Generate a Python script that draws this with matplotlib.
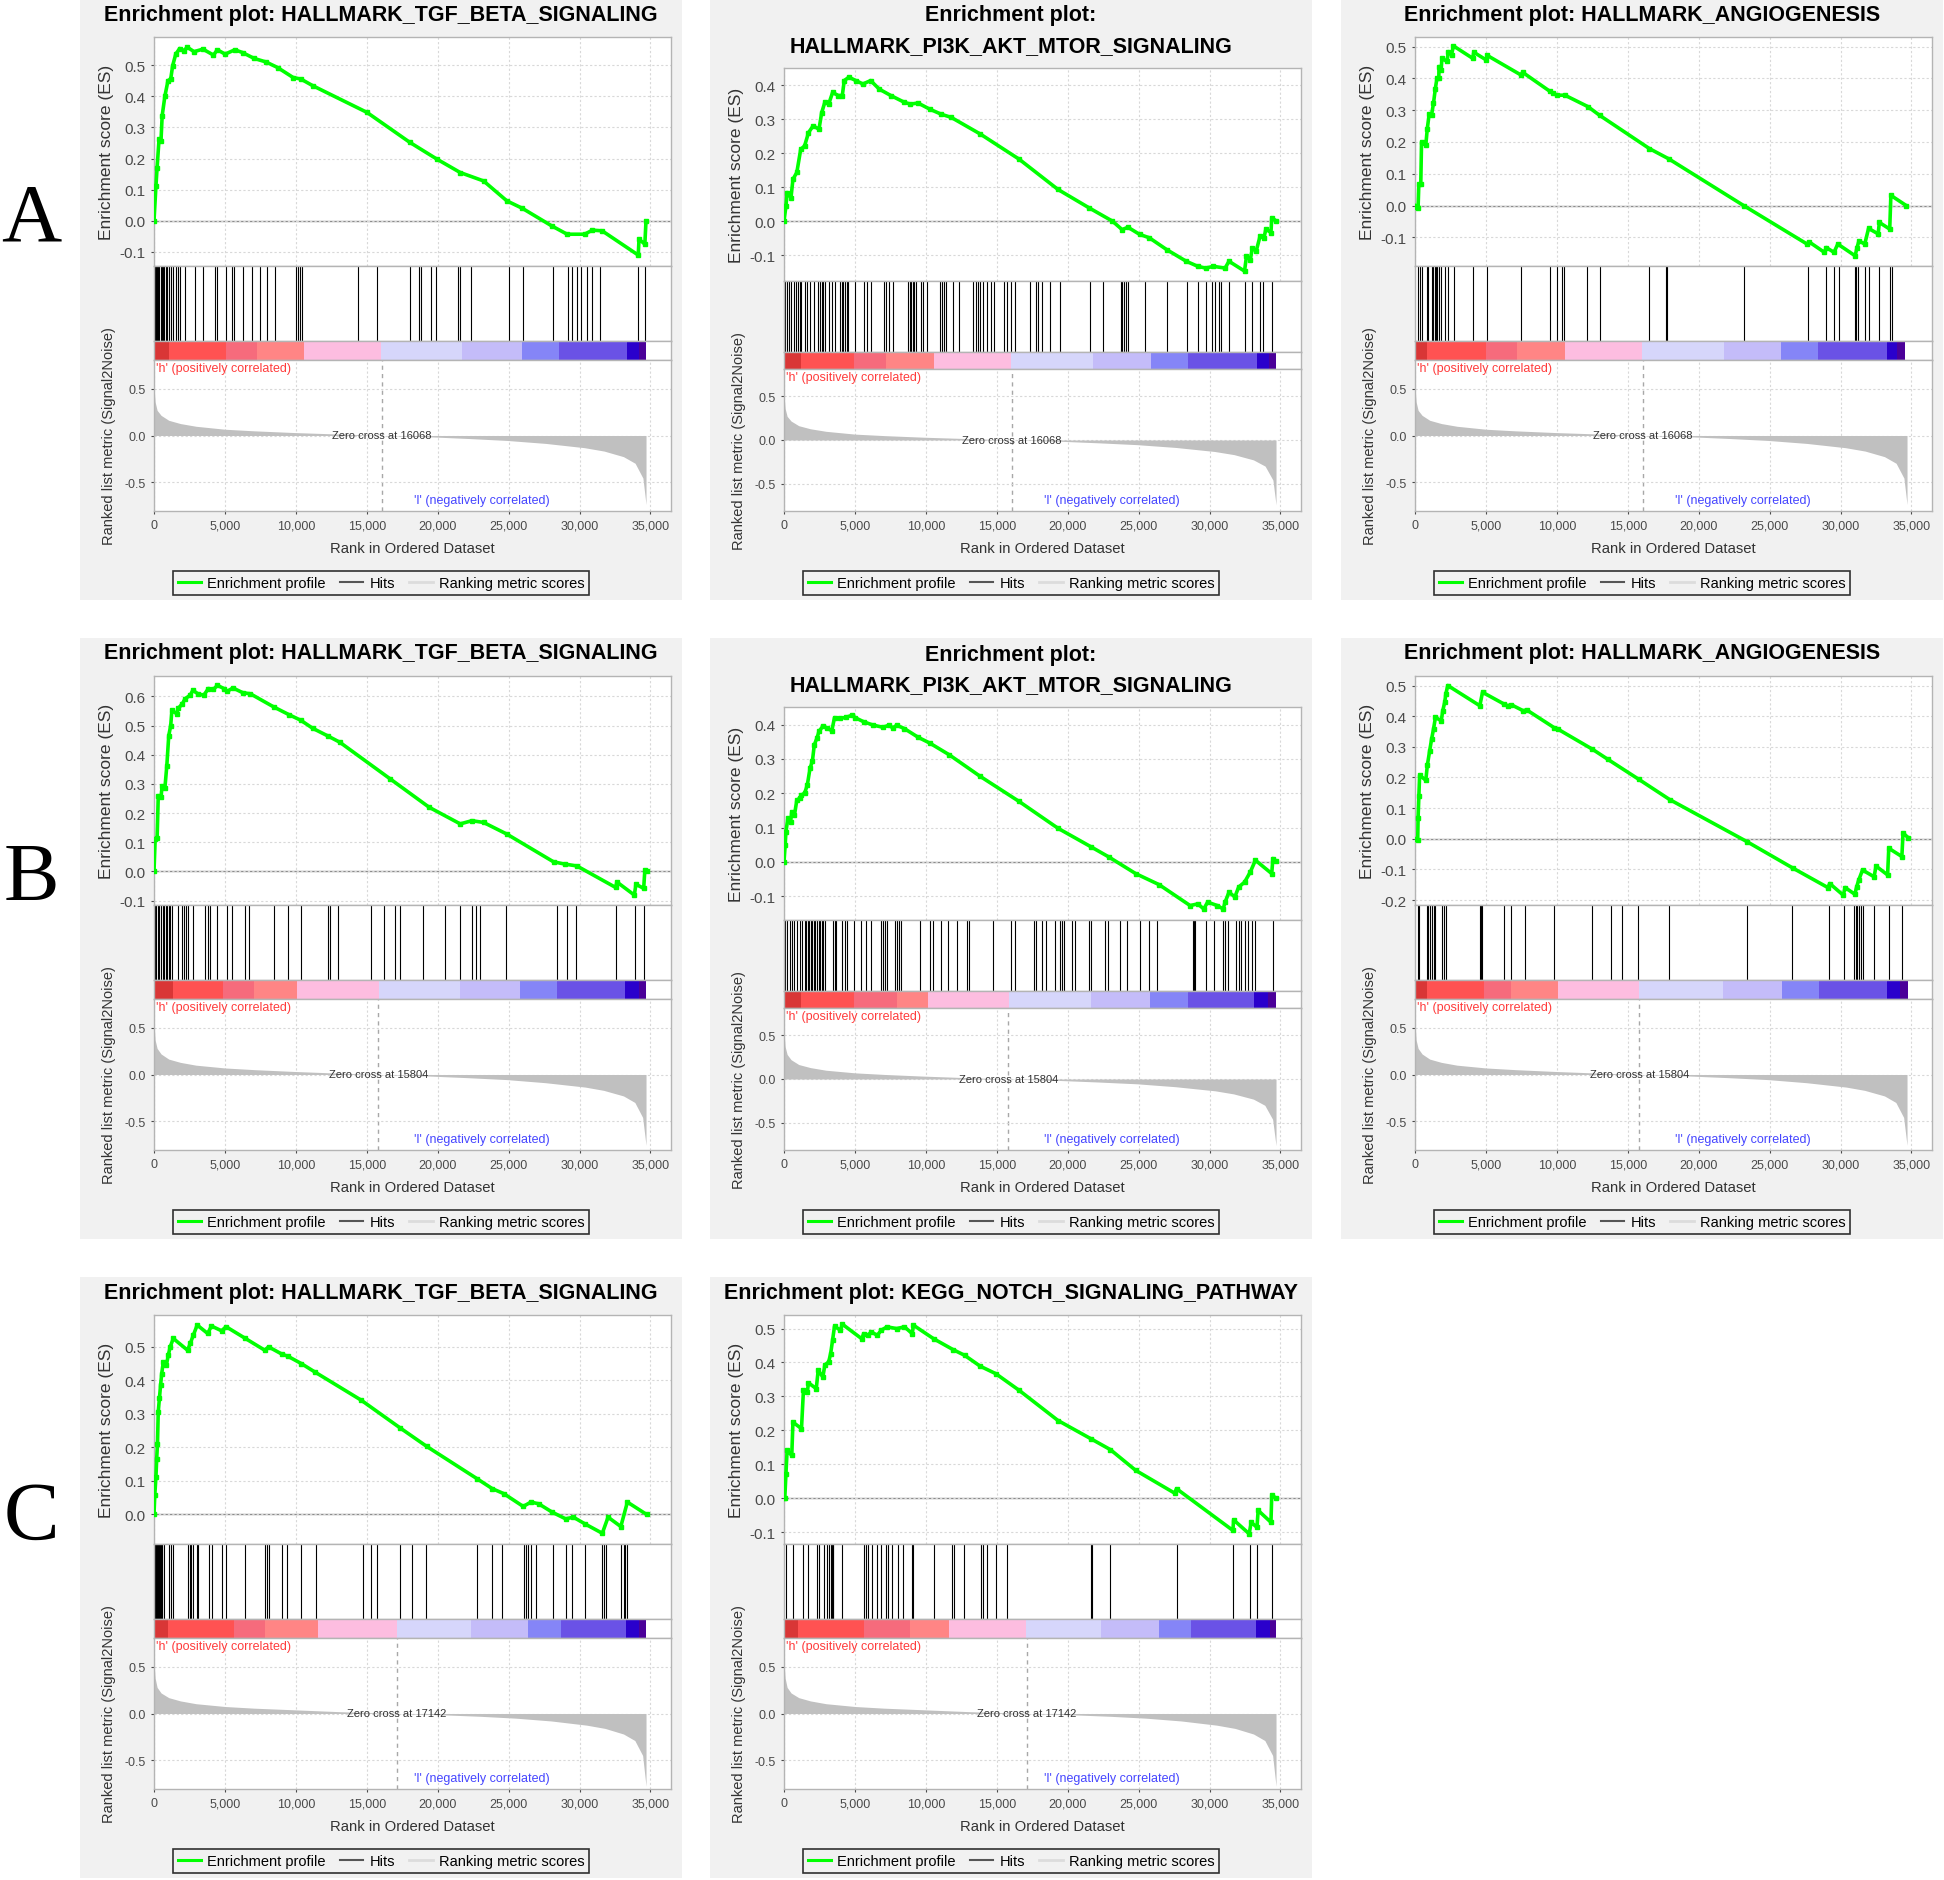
import matplotlib
matplotlib.use("Agg")
import matplotlib.pyplot as plt
from matplotlib.lines import Line2D
from matplotlib.patches import Rectangle
from matplotlib.ticker import MultipleLocator, FuncFormatter

plt.rcParams["font.family"] = ["Liberation Sans", "DejaVu Sans"]
plt.rcParams["axes.unicode_minus"] = False

# ---------------- data ----------------
titles = [
    "Enrichment plot: HALLMARK_TGF_BETA_SIGNALING",
    "Enrichment plot:\nHALLMARK_PI3K_AKT_MTOR_SIGNALING",
    "Enrichment plot: HALLMARK_ANGIOGENESIS",
    "Enrichment plot: HALLMARK_TGF_BETA_SIGNALING",
    "Enrichment plot:\nHALLMARK_PI3K_AKT_MTOR_SIGNALING",
    "Enrichment plot: HALLMARK_ANGIOGENESIS",
    "Enrichment plot: HALLMARK_TGF_BETA_SIGNALING",
    "Enrichment plot: KEGG_NOTCH_SIGNALING_PATHWAY",
]
row_labels = ["A", "B", "C"]
zero_cross = [16068, 15804, 17142]          # one ranked list per row
xtick_vals = [0, 5000, 10000, 15000, 20000, 25000, 30000, 35000]

# ranked list metric (Signal2Noise), one per row
metric_rank_A = [0, 80, 220, 500, 1040, 1860, 2960, 5010, 7070, 9810, 12550, 16068,
                 19400, 22140, 24880, 27620, 30360, 31730, 33100, 33920, 34470, 34690]
metric_val_A = [0.52, 0.36, 0.27, 0.216, 0.163, 0.128, 0.099, 0.067, 0.05, 0.032, 0.018, 0.0,
                -0.014, -0.032, -0.053, -0.085, -0.131, -0.167, -0.227, -0.298, -0.457, -0.74]
metric_rank_B = [0, 80, 220, 500, 1040, 1860, 2960, 5010, 7070, 9810, 12400, 15804,
                 19300, 22100, 24900, 27600, 30400, 31700, 33100, 33900, 34450, 34690]
metric_val_B = [0.55, 0.37, 0.28, 0.22, 0.165, 0.13, 0.10, 0.07, 0.052, 0.033, 0.018, 0.0,
                -0.016, -0.034, -0.055, -0.088, -0.135, -0.17, -0.23, -0.30, -0.46, -0.76]
metric_rank_C = [0, 80, 220, 500, 1040, 1860, 2960, 5010, 7070, 9810, 13000, 17142,
                 20500, 23000, 25500, 28000, 30500, 31800, 33100, 33900, 34450, 34690]
metric_val_C = [0.55, 0.38, 0.28, 0.22, 0.17, 0.135, 0.105, 0.075, 0.057, 0.04, 0.02, 0.0,
                -0.015, -0.03, -0.05, -0.08, -0.125, -0.16, -0.22, -0.29, -0.45, -0.78]

# enrichment score profiles (rank, ES)
es_rank_1 = [0, 137, 219, 356, 493, 575, 767, 986, 1178, 1315, 1534, 1808, 2082, 2356, 2822,
             3452, 4192, 4466, 5014, 5699, 6247, 7069, 7891, 8713, 9809, 10357, 11180, 15015,
             18030, 19947, 21591, 23235, 24879, 25975, 28030, 29126, 30359, 30907, 31592,
             34140, 34195, 34606, 34688]
es_val_1 = [0.0, 0.112, 0.171, 0.262, 0.257, 0.337, 0.40, 0.45, 0.455, 0.498, 0.535, 0.553,
            0.546, 0.557, 0.543, 0.551, 0.532, 0.549, 0.535, 0.549, 0.54, 0.521, 0.51, 0.492,
            0.46, 0.455, 0.434, 0.348, 0.252, 0.198, 0.155, 0.128, 0.064, 0.04, -0.016,
            -0.043, -0.043, -0.03, -0.032, -0.11, -0.059, -0.075, 0.0]
es_rank_2 = [0, 137, 219, 493, 630, 904, 1178, 1452, 1726, 2055, 2466, 2658, 2877, 3151, 3425,
             3836, 4110, 4247, 4576, 5069, 5562, 6110, 6713, 7535, 8494, 8905, 9453, 10275,
             11097, 11782, 13837, 16577, 19317, 21509, 23153, 23838, 24249, 25071, 25756,
             26989, 28359, 29181, 29729, 30277, 31099, 31373, 32469, 32606, 32880, 33017,
             33291, 33565, 33839, 33976, 34332, 34387, 34716]
es_val_2 = [0.0, 0.044, 0.084, 0.069, 0.123, 0.143, 0.211, 0.221, 0.26, 0.28, 0.27, 0.319,
            0.349, 0.344, 0.378, 0.369, 0.369, 0.413, 0.423, 0.413, 0.403, 0.413, 0.388, 0.369,
            0.349, 0.344, 0.347, 0.329, 0.314, 0.305, 0.256, 0.182, 0.093, 0.039, 0.0, -0.025,
            -0.018, -0.039, -0.049, -0.084, -0.118, -0.133, -0.138, -0.133, -0.138, -0.118,
            -0.147, -0.103, -0.113, -0.079, -0.088, -0.044, -0.049, -0.023, -0.034, 0.01, 0.0]
es_rank_3 = [0, 136, 217, 271, 407, 461, 759, 867, 1003, 1165, 1301, 1436, 1545, 1680, 1690,
             1843, 1897, 2249, 2358, 2575, 2710, 4065, 4146, 5014, 5095, 7453, 7588, 9485,
             9756, 10027, 10569, 12195, 13008, 16531, 17886, 23171, 27642, 27778, 28862, 28997,
             29539, 29810, 31030, 31165, 31301, 31707, 31978, 32655, 32737, 33469, 33550, 34634]
es_val_3 = [0.0, -0.005, -0.008, 0.068, 0.068, 0.2, 0.189, 0.242, 0.289, 0.284, 0.321, 0.368,
            0.4, 0.4, 0.437, 0.426, 0.463, 0.453, 0.484, 0.474, 0.502, 0.463, 0.482, 0.458,
            0.472, 0.411, 0.419, 0.36, 0.353, 0.347, 0.347, 0.311, 0.284, 0.179, 0.147, 0.0,
            -0.121, -0.114, -0.147, -0.132, -0.147, -0.121, -0.158, -0.132, -0.111, -0.121,
            -0.072, -0.089, -0.053, -0.074, 0.032, 0.0]
es_rank_4 = [0, 82, 219, 301, 493, 575, 767, 904, 1041, 1178, 1260, 1589, 1726, 2000, 2192,
             2548, 2740, 3096, 3507, 3836, 4192, 4466, 4932, 5151, 5562, 6247, 6795, 8439,
             9535, 10357, 11179, 12275, 13097, 16659, 19399, 21591, 22413, 23235, 24879,
             28167, 28989, 29811, 32551, 32633, 33866, 33976, 34524, 34606, 34743]
es_val_4 = [0.0, 0.111, 0.113, 0.26, 0.254, 0.294, 0.285, 0.363, 0.466, 0.5, 0.552, 0.541,
            0.56, 0.575, 0.592, 0.604, 0.621, 0.609, 0.604, 0.627, 0.624, 0.638, 0.627, 0.617,
            0.629, 0.613, 0.609, 0.564, 0.537, 0.518, 0.491, 0.464, 0.443, 0.317, 0.22, 0.163,
            0.174, 0.168, 0.128, 0.033, 0.025, 0.019, -0.055, -0.036, -0.081, -0.044, -0.058,
            0.005, 0.0]
es_rank_5 = [0, 82, 137, 274, 466, 548, 740, 904, 1096, 1233, 1452, 1644, 1836, 2000, 2137,
             2329, 2466, 2740, 3014, 3370, 3562, 3973, 4384, 4795, 5014, 5617, 6302, 6987,
             7398, 7672, 7946, 8494, 9453, 10275, 11645, 13837, 16577, 19317, 21646, 22879,
             24797, 26441, 28633, 29181, 29592, 29866, 30551, 30962, 31099, 31373, 31784,
             32058, 32469, 32880, 33236, 34387, 34469, 34716]
es_val_5 = [0.0, 0.049, 0.088, 0.127, 0.117, 0.146, 0.137, 0.18, 0.185, 0.195, 0.2, 0.224,
            0.273, 0.293, 0.341, 0.361, 0.38, 0.395, 0.39, 0.382, 0.42, 0.418, 0.421, 0.427,
            0.42, 0.408, 0.398, 0.392, 0.398, 0.39, 0.398, 0.388, 0.363, 0.346, 0.312, 0.249,
            0.176, 0.098, 0.044, 0.015, -0.034, -0.066, -0.127, -0.122, -0.137, -0.117, -0.127,
            -0.137, -0.117, -0.088, -0.102, -0.073, -0.059, -0.029, 0.005, -0.034, 0.01, 0.002]
es_rank_6 = [0, 190, 218, 272, 326, 762, 870, 1034, 1170, 1306, 1442, 1850, 1958, 2094, 2176,
             2312, 4570, 4760, 6256, 6528, 6800, 7616, 7888, 9792, 10064, 12512, 13600, 15776,
             17952, 23392, 26656, 29104, 29240, 30192, 30328, 31008, 31144, 31280, 31552,
             32368, 32504, 33320, 33402, 34326, 34408, 34762]
es_val_6 = [0.0, -0.005, 0.068, 0.139, 0.207, 0.191, 0.24, 0.287, 0.325, 0.358, 0.396, 0.385,
            0.418, 0.445, 0.473, 0.5, 0.434, 0.478, 0.44, 0.434, 0.437, 0.418, 0.42, 0.363,
            0.358, 0.292, 0.259, 0.194, 0.128, -0.009, -0.096, -0.159, -0.146, -0.184, -0.159,
            -0.181, -0.156, -0.135, -0.102, -0.124, -0.089, -0.118, -0.031, -0.058, 0.019, 0.004]
es_rank_7 = [0, 54, 136, 190, 245, 299, 381, 462, 544, 653, 870, 1006, 1142, 1360, 2366, 2557,
             2774, 3046, 3781, 4053, 4760, 5086, 6446, 7806, 8078, 9030, 9438, 10390, 11342,
             14606, 17326, 19230, 22766, 23854, 24670, 26030, 26574, 27118, 28070, 29022,
             29566, 30382, 31606, 32014, 32912, 33374, 34734]
es_val_7 = [0.0, 0.057, 0.112, 0.166, 0.211, 0.306, 0.346, 0.385, 0.42, 0.455, 0.445, 0.475,
            0.5, 0.525, 0.49, 0.51, 0.535, 0.565, 0.54, 0.562, 0.548, 0.56, 0.525, 0.49, 0.5,
            0.478, 0.472, 0.45, 0.425, 0.341, 0.259, 0.203, 0.107, 0.077, 0.062, 0.024, 0.037,
            0.032, 0.007, -0.013, -0.008, -0.028, -0.056, -0.008, -0.036, 0.037, 0.0]
es_rank_8 = [0, 55, 137, 219, 548, 630, 1233, 1370, 1644, 1726, 2274, 2411, 2740, 2877, 3151,
             3288, 3425, 3562, 3973, 4110, 5480, 5617, 5891, 6165, 6576, 6850, 7261, 7946,
             8494, 9042, 9124, 10549, 11919, 12741, 13837, 14933, 16577, 19317, 21646, 23016,
             24797, 27537, 27674, 31647, 31701, 32798, 32935, 33346, 33428, 34332, 34387, 34716]
es_val_8 = [0.0, 0.0, 0.072, 0.141, 0.126, 0.224, 0.205, 0.318, 0.313, 0.34, 0.323, 0.377,
            0.357, 0.392, 0.402, 0.426, 0.466, 0.507, 0.495, 0.513, 0.47, 0.485, 0.48, 0.49,
            0.48, 0.495, 0.505, 0.5, 0.505, 0.485, 0.51, 0.47, 0.438, 0.421, 0.389, 0.367,
            0.318, 0.229, 0.175, 0.143, 0.082, 0.015, 0.028, -0.095, -0.064, -0.105, -0.071,
            -0.086, -0.036, -0.071, 0.008, 0.0]

# hit positions (rank of each gene-set member)
hits_1 = [55, 137, 219, 301, 384, 466, 548, 630, 712, 822, 932, 1041, 1206, 1370, 1534, 1726,
          1863, 2192, 2877, 3452, 4329, 4466, 5096, 5507, 5644, 6247, 6932, 7480, 7973, 8521,
          10001, 10138, 10275, 10412, 14385, 15700, 18029, 18659, 18796, 19536, 19892, 21454,
          21591, 22331, 25016, 26030, 28112, 29208, 29455, 29811, 30085, 30496, 30852, 31455,
          34140, 34606]
hits_2 = [82, 219, 356, 493, 685, 822, 1014, 1151, 1233, 1507, 1644, 1836, 2110, 2384, 2548,
          2658, 2767, 2877, 3206, 3370, 3589, 3973, 4083, 4192, 4302, 4411, 4521, 5014, 5672,
          5836, 6165, 7042, 7206, 7425, 7672, 8768, 8878, 8987, 9097, 9179, 9316, 9672, 9782,
          10056, 11015, 11152, 11261, 11426, 11919, 12357, 13344, 13563, 13700, 13837, 14056,
          14330, 14577, 14796, 15481, 15755, 16029, 16303, 17344, 17755, 17892, 18221, 18769,
          19481, 21564, 22468, 23756, 23865, 23975, 24112, 24249, 25482, 26989, 28414, 29181,
          29729, 30140, 30414, 30688, 30825, 31373, 32469, 33017, 33565, 33757, 34387]
hits_3 = [217, 325, 488, 813, 921, 1220, 1301, 1409, 1491, 1572, 1680, 1843, 2087, 2358, 2764,
          4092, 5041, 7453, 9512, 10027, 10379, 10515, 12141, 13035, 16477, 17696, 17778,
          23225, 27696, 28943, 29539, 29891, 31002, 31111, 31219, 31707, 31978, 32710, 33523,
          33604]
hits_4 = [82, 164, 274, 384, 493, 603, 712, 822, 932, 1041, 1151, 1260, 1699, 2000, 2137,
          2274, 2411, 2767, 3562, 3781, 3973, 4411, 5151, 5507, 6384, 6713, 8439, 9480, 10357,
          12275, 12412, 12960, 15289, 16248, 17015, 17344, 18988, 20495, 21591, 22413, 22687,
          22961, 24797, 28386, 29126, 29729, 32606, 33921, 34551]
hits_5 = [82, 192, 411, 548, 740, 904, 1096, 1288, 1452, 1562, 1671, 1781, 1891, 2000, 2110,
          2219, 2329, 2439, 2548, 2658, 2767, 2877, 3425, 3562, 3699, 4110, 4302, 4466, 4932,
          5398, 5754, 6110, 6850, 6987, 7124, 7261, 7809, 7946, 8083, 8247, 9590, 10275, 10494,
          11042, 11590, 12193, 12878, 13015, 14741, 15974, 16303, 17618, 17755, 18221, 18495,
          19125, 19454, 19591, 19728, 20276, 20550, 21509, 21646, 22660, 22824, 23701, 24194,
          25126, 25756, 26304, 28825, 28907, 28989, 29784, 30332, 30962, 31099, 31291, 31866,
          32058, 32250, 32469, 32743, 32962, 33181, 34442]
hits_6 = [218, 299, 816, 925, 1034, 1170, 1306, 1414, 1904, 2040, 2176, 4570, 4651, 4733,
          6310, 6746, 7752, 9792, 12512, 13818, 14606, 15722, 17898, 23392, 26602, 29158,
          30246, 30954, 31062, 31171, 31280, 31443, 31606, 32368, 33402, 34354]
hits_7 = [54, 109, 163, 218, 272, 326, 381, 435, 490, 544, 598, 680, 1061, 1170, 1360, 2421,
          2530, 2638, 2774, 3019, 3101, 3862, 4080, 4814, 5086, 6446, 7806, 7942, 8078, 9030,
          9384, 10390, 11424, 14742, 15286, 15749, 17326, 18224, 19176, 22766, 23854, 24534,
          26085, 26248, 26384, 26574, 26901, 28152, 29077, 29485, 30382, 31606, 31742, 31878,
          32912, 33102, 33238, 33374]
hits_8 = [137, 630, 1370, 1726, 2329, 2466, 2822, 3014, 3206, 3315, 3370, 3425, 3480, 4110,
          5617, 5754, 5891, 6220, 6576, 6850, 7206, 7316, 7590, 8028, 8357, 9042, 9124, 10549,
          11864, 11974, 12686, 13892, 14056, 14330, 14933, 15755, 21646, 21728, 23016, 27674,
          31647, 32880, 33346, 34387]

# colour bar segment edges (rank) under the hits
bar_edges_1 = [0, 1040, 5070, 7270, 10580, 16030, 21700, 25975, 28580, 33370, 34190, 34690]
bar_edges_2 = [0, 1233, 4932, 7206, 10549, 16029, 21783, 25893, 28496, 33346, 34168, 34661]
bar_edges_3 = [0, 813, 5014, 7182, 10569, 15989, 21761, 25824, 28398, 33276, 33953, 34577]
bar_edges_4 = [0, 1315, 4877, 7069, 10083, 15837, 21591, 25838, 28441, 33236, 34195, 34688]
bar_edges_5 = [0, 1233, 4932, 7946, 10138, 15892, 21646, 25811, 28496, 33154, 34113, 34661]
bar_edges_6 = [0, 816, 4842, 6800, 10064, 15776, 21706, 25840, 28506, 33266, 34218, 34762]
bar_edges_7 = [0, 1006, 5630, 7806, 11560, 17109, 22358, 26357, 28696, 33293, 34190, 34680]
bar_edges_8 = [0, 959, 5617, 8905, 11645, 17070, 22331, 26441, 28715, 33291, 34250, 34716]
bar_colors = ["#d93636", "#ff5252", "#f66b7c", "#ff8585", "#fdbde0", "#d6d6fb",
              "#c4bcf9", "#8585f7", "#6a52e6", "#2a00cc", "#4b0099"]

# ---------------- layout (pixels of the 1944x1881 canvas) ----------------
W, H = 1944, 1881
col_x = [80, 710, 1341]
row_y = [0, 639, 1278]
XMAX = 36450

panels = [
    (es_rank_1, es_val_1, hits_1, bar_edges_1, (-0.145, 0.59)),
    (es_rank_2, es_val_2, hits_2, bar_edges_2, (-0.176, 0.45)),
    (es_rank_3, es_val_3, hits_3, bar_edges_3, (-0.19, 0.53)),
    (es_rank_4, es_val_4, hits_4, bar_edges_4, (-0.115, 0.67)),
    (es_rank_5, es_val_5, hits_5, bar_edges_5, (-0.169, 0.451)),
    (es_rank_6, es_val_6, hits_6, bar_edges_6, (-0.216, 0.531)),
    (es_rank_7, es_val_7, hits_7, bar_edges_7, (-0.088, 0.595)),
    (es_rank_8, es_val_8, hits_8, bar_edges_8, (-0.135, 0.54)),
]
metrics = [(metric_rank_A, metric_val_A), (metric_rank_B, metric_val_B),
           (metric_rank_C, metric_val_C)]

fig = plt.figure(figsize=(W / 100, H / 100), dpi=100)
fig.patch.set_facecolor("white")


def px_axes(x, y, w, h):
    return fig.add_axes([x / W, 1 - (y + h) / H, w / W, h / H])


def px_text(x, y, s, **kw):
    return fig.text(x / W, 1 - y / H, s, **kw)


def gray_spines(ax):
    for s in ax.spines.values():
        s.set_color("#b4b4b4")
        s.set_linewidth(1)


fmt1 = FuncFormatter(lambda v, _: f"{round(v, 1) + 0:.1f}")
fmtk = FuncFormatter(lambda v, _: f"{int(v):,}")
grid_kw = dict(color="#d8d8d8", ls=(0, (2, 2)), lw=0.8)

for i, (es_x, es_y, hits, edges, ylim) in enumerate(panels):
    ox, oy = col_x[i % 3], row_y[i // 3]
    row = i // 3
    two_line = "\n" in titles[i]
    if two_line:
        es_top, es_bot, hit_bot, bar_bot = 69, 282, 353, 370
    else:
        es_top, es_bot, hit_bot, bar_bot = 38, 267, 342, 361
    left, width, bottom = 74, 517, 512
    cx = ox + 301

    fig.add_artist(Rectangle((ox / W, 1 - (oy + 601) / H), 602 / W, 601 / H,
                             transform=fig.transFigure, facecolor="#f1f1f1",
                             edgecolor="none", zorder=-10))

    # title
    if two_line:
        l1, l2 = titles[i].split("\n")
        px_text(cx, oy + 16, l1, ha="center", va="center", fontsize=15.5, fontweight="bold")
        px_text(cx, oy + 47, l2, ha="center", va="center", fontsize=15.5, fontweight="bold")
    else:
        px_text(cx, oy + 15, titles[i], ha="center", va="center", fontsize=15.5,
                fontweight="bold")

    # enrichment score
    ax = px_axes(ox + left, oy + es_top, width, es_bot - es_top)
    ax.set_facecolor("white")
    ax.axhline(0, color="#8c8c8c", lw=1, zorder=1)
    ax.plot(es_x, es_y, color="#00ff00", lw=2.6, marker="s", ms=2.4, zorder=3)
    ax.set_xlim(0, XMAX)
    ax.set_ylim(*ylim)
    ax.set_xticks(xtick_vals)
    ax.yaxis.set_major_locator(MultipleLocator(0.1))
    ax.yaxis.set_major_formatter(fmt1)
    ax.tick_params(axis="x", length=0, labelbottom=False)
    ax.tick_params(axis="y", labelsize=11, colors="#4a4a4a", length=2, pad=4)
    ax.grid(True, **grid_kw)
    gray_spines(ax)
    px_text(ox + 26, oy + (es_top + es_bot) / 2, "Enrichment score (ES)", rotation=90,
            ha="center", va="center", fontsize=12.5, color="#333333")

    # hits
    axh = px_axes(ox + left, oy + es_bot, width, hit_bot - es_bot)
    axh.vlines(hits, 0, 1, color="black", lw=0.8)
    axh.set_xlim(0, XMAX)
    axh.set_ylim(0, 1)
    axh.set_xticks([])
    axh.set_yticks([])
    gray_spines(axh)

    # colour bar
    axc = px_axes(ox + left, oy + hit_bot, width, bar_bot - hit_bot)
    for a, b, c in zip(edges[:-1], edges[1:], bar_colors):
        axc.axvspan(a, b, color=c, lw=0)
    axc.set_xlim(0, XMAX)
    axc.set_ylim(0, 1)
    axc.set_xticks([])
    axc.set_yticks([])
    gray_spines(axc)

    # ranked list metric
    mr, mv = metrics[row]
    zc = zero_cross[row]
    axr = px_axes(ox + left, oy + bar_bot, width, bottom - bar_bot)
    axr.fill_between(mr, mv, 0, color="#c0c0c0", lw=0, zorder=2)
    axr.axvline(zc, color="#a8a8a8", ls=(0, (3, 3)), lw=1, zorder=1)
    axr.text(zc, 0, f"Zero cross at {zc}", ha="center", va="center", fontsize=8,
             color="#333333", zorder=4)
    axr.text(150, 0.72, "'h' (positively correlated)", color="#ff3c3c", fontsize=9,
             va="center")
    axr.text(23100, -0.69, "'l' (negatively correlated)", color="#4646ff", fontsize=9,
             ha="center", va="center")
    axr.set_xlim(0, XMAX)
    axr.set_ylim(-0.81, 0.81)
    axr.set_xticks(xtick_vals)
    axr.xaxis.set_major_formatter(fmtk)
    axr.set_yticks([-0.5, 0.0, 0.5])
    axr.yaxis.set_major_formatter(fmt1)
    axr.tick_params(labelsize=9, colors="#4a4a4a", length=2, pad=4)
    axr.grid(True, **grid_kw)
    gray_spines(axr)
    px_text(ox + 29, oy + (bar_bot + bottom) / 2, "Ranked list metric (Signal2Noise)",
            rotation=90, ha="center", va="center", fontsize=10.5, color="#333333")
    px_text(ox + left + width / 2, oy + 549, "Rank in Ordered Dataset", ha="center",
            va="center", fontsize=10.7, color="#333333")

    # legend
    handles = [Line2D([], [], color="#00ff00", lw=2.2),
               Line2D([], [], color="#555555", lw=1.5),
               Line2D([], [], color="#dcdcdc", lw=2)]
    leg = fig.legend(handles, ["Enrichment profile", "Hits", "Ranking metric scores"],
                     loc="center", bbox_to_anchor=(cx / W, 1 - (oy + 584) / H),
                     ncol=3, fontsize=10.5, frameon=True, fancybox=False, handlelength=1.6,
                     handletextpad=0.4, columnspacing=1.0, borderpad=0.35)
    leg.get_frame().set_edgecolor("black")
    leg.get_frame().set_facecolor("#f1f1f1")
    leg.get_frame().set_linewidth(1.2)

# row letters
for r, lab in enumerate(row_labels):
    px_text(31, [221, 880, 1519][r], lab, ha="center", va="center", fontsize=60,
            family=["Liberation Serif", "DejaVu Serif"])

fig.savefig("out.png", dpi=100)
